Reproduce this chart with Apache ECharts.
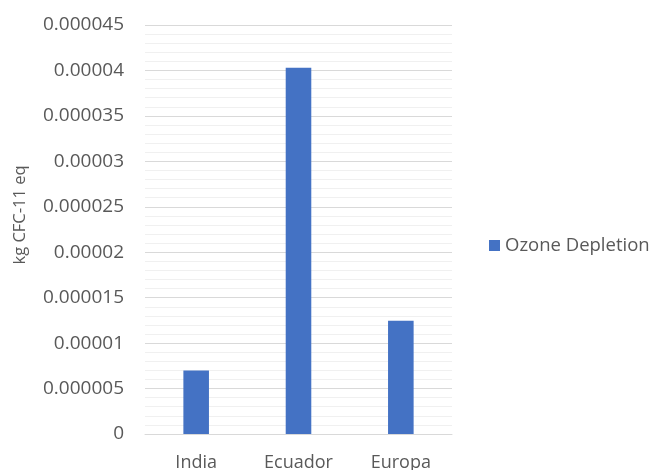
<!DOCTYPE html>
<html>
<head>
<meta charset="utf-8">
<script src="https://cdn.jsdelivr.net/npm/echarts@6/dist/echarts.min.js"></script>
<style>
  html, body { margin: 0; padding: 0; background: #ffffff; }
  #chart { width: 652px; height: 470px; }
</style>
</head>
<body>
<div id="chart"></div>
<script>
// Ozone depletion per region (kg CFC-11 eq)
const categories = ['India', 'Ecuador', 'Europa'];
const ozoneDepletion = [0.0000070, 0.0000403, 0.00001245];
const seriesName = 'Ozone Depletion';
const axisName = 'kg CFC-11 eq';

const FONT = '"Open Sans", "Noto Sans", sans-serif';
const TEXT = '#595959';

function fmt(v) {
  if (v === 0) return '0';
  return parseFloat(v.toPrecision(6)).toString();
}

const chart = echarts.init(document.getElementById('chart'), null, { renderer: 'canvas' });
chart.setOption({
  animation: false,
  backgroundColor: '#ffffff',
  textStyle: { fontFamily: FONT },
  grid: { left: 145, right: 200, top: 25, bottom: 36, containLabel: false, outerBoundsMode: 'none' },
  legend: {
    data: [seriesName],
    orient: 'vertical',
    left: 489,
    top: 236,
    padding: 0,
    itemWidth: 11,
    itemHeight: 11,
    icon: 'rect',
    textStyle: { color: TEXT, fontSize: 18.5, fontFamily: FONT }
  },
  graphic: [{
    type: 'text',
    x: 20,
    y: 215,
    rotation: Math.PI / 2,
    style: {
      text: axisName,
      fill: TEXT,
      font: '16.5px ' + FONT,
      align: 'center',
      verticalAlign: 'middle'
    }
  }],
  xAxis: {
    type: 'category',
    data: categories,
    axisLine: { lineStyle: { color: '#d9d9d9', width: 1 } },
    axisTick: { show: false },
    axisLabel: { color: TEXT, fontSize: 18, fontFamily: FONT, margin: 20 }
  },
  yAxis: {
    type: 'value',
    min: 0,
    max: 0.000045,
    interval: 0.000005,
    axisLine: { show: false },
    axisTick: { show: false },
    axisLabel: { color: TEXT, fontSize: 19, fontFamily: FONT, margin: 21, formatter: fmt },
    splitLine: { lineStyle: { color: '#d9d9d9', width: 1 } },
    minorTick: { show: false, splitNumber: 5 },
    minorSplitLine: { show: true, lineStyle: { color: '#f0f0f0', width: 1 } }
  },
  series: [{
    name: seriesName,
    type: 'bar',
    data: ozoneDepletion,
    barWidth: '25%',
    itemStyle: { color: '#4472c4' }
  }]
});
</script>
</body>
</html>
